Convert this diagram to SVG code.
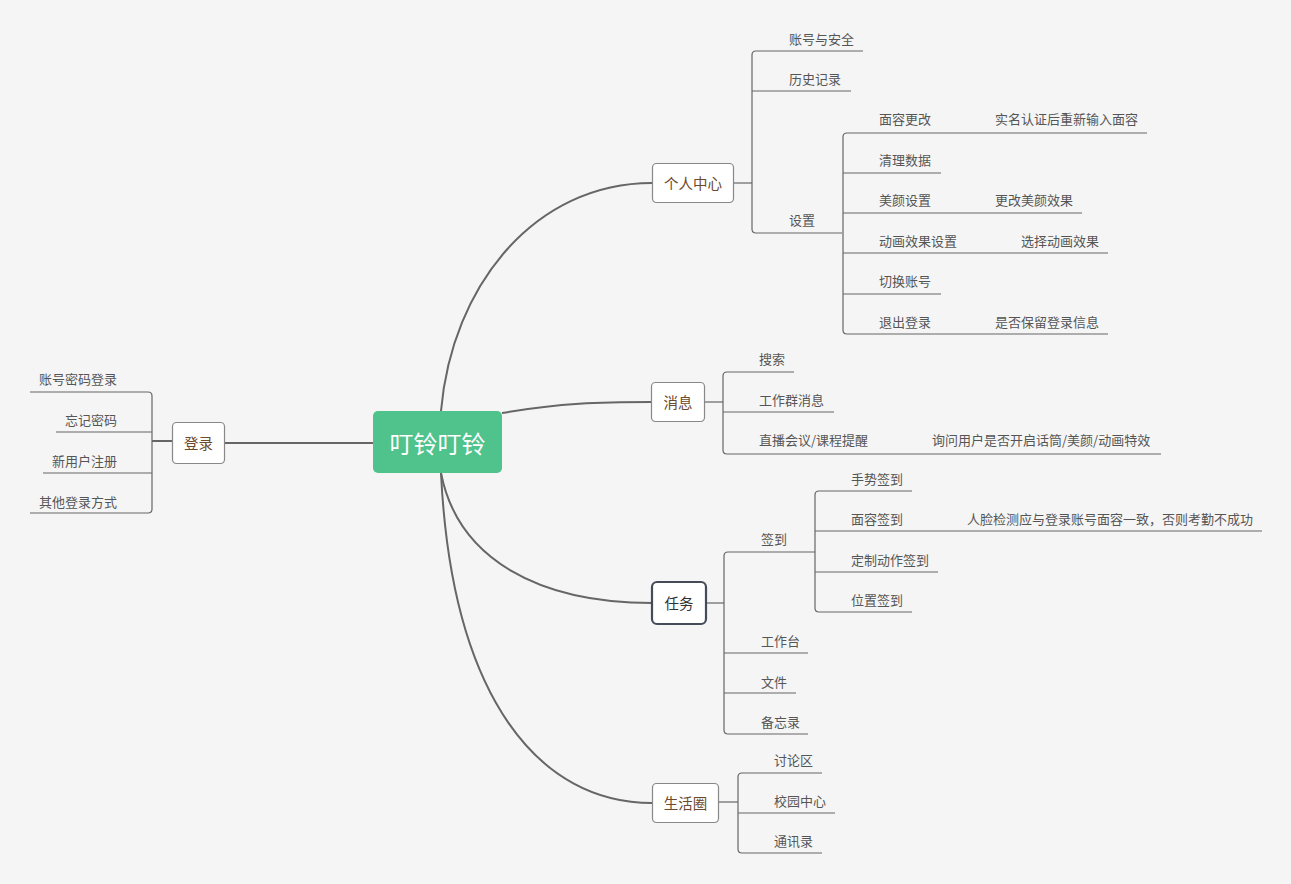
<svg xmlns="http://www.w3.org/2000/svg" width="1291" height="884" viewBox="0 0 1291 884">
<style>
.bg{fill:#f5f5f5}
.main{fill:none;stroke:#666;stroke-width:2}
.sub{fill:none;stroke:#666;stroke-width:1.2}
.node{fill:#fff;stroke:#888;stroke-width:1.2}
.sel{fill:#fff;stroke:#454c57;stroke-width:2.2}
.nt{font-family:"Noto Sans CJK SC","Liberation Sans",sans-serif;font-size:14.5px;fill:#6d4a2e;text-anchor:middle;dominant-baseline:central}
.st{font-family:"Noto Sans CJK SC","Liberation Sans",sans-serif;font-size:14.5px;fill:#333;text-anchor:middle;dominant-baseline:central}
.lt{font-family:"Noto Sans CJK SC","Liberation Sans",sans-serif;font-size:13px;fill:#555;dominant-baseline:central}
.ct{font-family:"Noto Sans CJK SC","Liberation Sans",sans-serif;font-size:24px;fill:#fff;text-anchor:middle;dominant-baseline:central}
</style>
<rect class="bg" x="0" y="0" width="1291" height="884"/>
<g id="connectors">
<path class="main" d="M373,443 H224"/>
<path class="main" d="M441,411 C452,285 535,183 652,183"/>
<path class="main" d="M502,413 C560,403 600,402 651,402"/>
<path class="main" d="M441,473 C458,560 540,603 652,603"/>
<path class="main" d="M441,473 C452,700 540,803 652,803"/>
<path class="main" d="M172,441 H152"/>
<path class="sub" d="M30,392 H148 Q152,392 152,396 V509 Q152,513 148,513 H30"/>
<path class="sub" d="M56,432 H152 M43,473 H152"/>
<path class="sub" d="M734,183 H752"/>
<path class="sub" d="M863,51 H756 Q752,51 752,55 V229 Q752,233 756,233 H842"/>
<path class="sub" d="M752,91 H851"/>
<path class="sub" d="M1147,133 H847 Q843,133 843,137 V330 Q843,334 847,334 H1108"/>
<path class="sub" d="M843,173 H941 M843,213 H1082 M843,253 H1108 M843,294 H941"/>
<path class="sub" d="M705,402 H723"/>
<path class="sub" d="M794,372 H727 Q723,372 723,376 V450 Q723,454 727,454 H1161"/>
<path class="sub" d="M723,412 H834"/>
<path class="sub" d="M706,603 H724"/>
<path class="sub" d="M815,552 H728 Q724,552 724,556 V730 Q724,734 728,734 H808"/>
<path class="sub" d="M724,653 H808 M724,693 H796"/>
<path class="sub" d="M912,491 H819 Q815,491 815,495 V608 Q815,612 819,612 H912"/>
<path class="sub" d="M815,531 H1262 M815,572 H938"/>
<path class="sub" d="M719,802 H738"/>
<path class="sub" d="M822,773 H742 Q738,773 738,777 V849 Q738,853 742,853 H822"/>
<path class="sub" d="M738,813 H835"/>
</g>
<g id="central">
<rect x="373" y="411" width="129" height="62" rx="5" fill="#50c28c"/>
<text class="ct" x="437.5" y="442">叮铃叮铃</text>
</g>
<g id="login">
<rect class="node" x="172.5" y="422.5" width="52" height="41" rx="4"/>
<text class="nt" x="198.5" y="442">登录</text>
</g>
<g id="login-leaves" transform="translate(0,-1.5)">
<text class="lt" x="117" y="380" text-anchor="end">账号密码登录</text>
<text class="lt" x="117" y="421" text-anchor="end">忘记密码</text>
<text class="lt" x="117" y="462" text-anchor="end">新用户注册</text>
<text class="lt" x="117" y="503" text-anchor="end">其他登录方式</text>
</g>
<g id="personal">
<rect class="node" x="652.5" y="163.5" width="81" height="39" rx="4"/>
<text class="nt" x="693" y="182">个人中心</text>
</g>
<g id="personal-leaves" transform="translate(0,-1.5)">
<text class="lt" x="789" y="40">账号与安全</text>
<text class="lt" x="789" y="80">历史记录</text>
<text class="lt" x="789" y="221">设置</text>
<text class="lt" x="879" y="120">面容更改</text>
<text class="lt" x="995" y="120">实名认证后重新输入面容</text>
<text class="lt" x="879" y="161">清理数据</text>
<text class="lt" x="879" y="201">美颜设置</text>
<text class="lt" x="995" y="201">更改美颜效果</text>
<text class="lt" x="879" y="242">动画效果设置</text>
<text class="lt" x="1021" y="242">选择动画效果</text>
<text class="lt" x="879" y="282">切换账号</text>
<text class="lt" x="879" y="323">退出登录</text>
<text class="lt" x="995" y="323">是否保留登录信息</text>
</g>
<g id="message">
<rect class="node" x="651.5" y="382.5" width="53" height="39" rx="4"/>
<text class="nt" x="678" y="401">消息</text>
</g>
<g id="message-leaves" transform="translate(0,-1.5)">
<text class="lt" x="759" y="360">搜索</text>
<text class="lt" x="759" y="401">工作群消息</text>
<text class="lt" x="759" y="441">直播会议/课程提醒</text>
<text class="lt" x="932" y="441">询问用户是否开启话筒/美颜/动画特效</text>
</g>
<g id="task">
<rect class="sel" x="652" y="582" width="54" height="42" rx="5"/>
<text class="st" x="679" y="602">任务</text>
</g>
<g id="task-leaves" transform="translate(0,-1.5)">
<text class="lt" x="761" y="540">签到</text>
<text class="lt" x="851" y="480">手势签到</text>
<text class="lt" x="851" y="520">面容签到</text>
<text class="lt" x="967" y="520">人脸检测应与登录账号面容一致，否则考勤不成功</text>
<text class="lt" x="851" y="561">定制动作签到</text>
<text class="lt" x="851" y="601">位置签到</text>
<text class="lt" x="761" y="642">工作台</text>
<text class="lt" x="761" y="683">文件</text>
<text class="lt" x="761" y="723">备忘录</text>
</g>
<g id="life">
<rect class="node" x="652.5" y="783.5" width="66" height="39" rx="4"/>
<text class="nt" x="685.5" y="802">生活圈</text>
</g>
<g id="life-leaves" transform="translate(0,-1.5)">
<text class="lt" x="774" y="761">讨论区</text>
<text class="lt" x="774" y="802">校园中心</text>
<text class="lt" x="774" y="842">通讯录</text>
</g>
</svg>
